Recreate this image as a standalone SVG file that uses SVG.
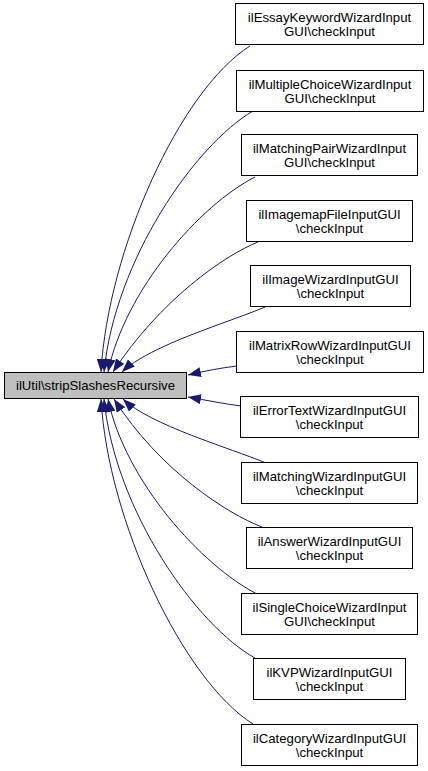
<svg xmlns="http://www.w3.org/2000/svg" width="428" height="771" viewBox="0 0 428 771">
<style>
.node rect{fill:#ffffff;stroke:#000000;stroke-width:1}
.node.cur rect{fill:#bfbfbf}
.node text{font-family:"Liberation Sans",Arial,Helvetica,sans-serif;font-size:13.2px;fill:#000000;text-anchor:middle}
.edge{fill:none;stroke:#191970;stroke-width:1;marker-end:url(#ah)}
</style>
<defs>
<marker id="ah" markerUnits="userSpaceOnUse" markerWidth="13" markerHeight="10" refX="13" refY="5" orient="auto" viewBox="0 0 13 10">
<path d="M0,0 L13,5 L0,10 z" fill="#191970"/>
</marker>
</defs>
<rect width="428" height="771" fill="#ffffff"/>
<g id="edges">
<path class="edge" d="M250,46 C180,90 108,250 101,372"/>
<path class="edge" d="M253,111 C195,145 115,260 104,372"/>
<path class="edge" d="M255,177 C200,205 125,290 108,372"/>
<path class="edge" d="M258,242 C225,255 160,300 113,372"/>
<path class="edge" d="M265,307 C230,322 150,345 122,372"/>
<path class="edge" d="M237,366 C220,368 205,371 188,375"/>
<path class="edge" d="M241,406 C225,404 205,400 188,397"/>
<path class="edge" d="M266,463 C230,448 150,425 123,399"/>
<path class="edge" d="M262,527 C228,514 160,471 114,399"/>
<path class="edge" d="M257,594 C202,566 125,481 108,399"/>
<path class="edge" d="M255,658 C197,626 115,511 104,399"/>
<path class="edge" d="M253,724 C183,680 108,521 101,399"/>
</g>
<g id="n0" class="node cur"><rect x="4.5" y="372.5" width="182" height="26"/><text x="95.5" y="390">ilUtil\stripSlashesRecursive</text></g>
<g id="n1" class="node"><rect x="235.5" y="3.5" width="188" height="41"/><text x="329.5" y="22">ilEssayKeywordWizardInput</text><text x="329.5" y="36">GUI\checkInput</text></g>
<g id="n2" class="node"><rect x="236.5" y="70.5" width="187" height="41"/><text x="330" y="89">ilMultipleChoiceWizardInput</text><text x="330" y="103">GUI\checkInput</text></g>
<g id="n3" class="node"><rect x="241.5" y="134.5" width="176" height="41"/><text x="329.5" y="153">ilMatchingPairWizardInput</text><text x="329.5" y="167">GUI\checkInput</text></g>
<g id="n4" class="node"><rect x="246.5" y="200.5" width="166" height="41"/><text x="329.5" y="219">ilImagemapFileInputGUI</text><text x="329.5" y="233">\checkInput</text></g>
<g id="n5" class="node"><rect x="250.5" y="265.5" width="160" height="41"/><text x="330.5" y="284">ilImageWizardInputGUI</text><text x="330.5" y="298">\checkInput</text></g>
<g id="n6" class="node"><rect x="236.5" y="331.5" width="187" height="41"/><text x="330" y="350">ilMatrixRowWizardInputGUI</text><text x="330" y="364">\checkInput</text></g>
<g id="n7" class="node"><rect x="240.5" y="396.5" width="178" height="41"/><text x="329.5" y="415">ilErrorTextWizardInputGUI</text><text x="329.5" y="429">\checkInput</text></g>
<g id="n8" class="node"><rect x="241.5" y="462.5" width="176" height="41"/><text x="329.5" y="481">ilMatchingWizardInputGUI</text><text x="329.5" y="495">\checkInput</text></g>
<g id="n9" class="node"><rect x="246.5" y="527.5" width="166" height="41"/><text x="329.5" y="546">ilAnswerWizardInputGUI</text><text x="329.5" y="560">\checkInput</text></g>
<g id="n10" class="node"><rect x="241.5" y="593.5" width="176" height="41"/><text x="329.5" y="612">ilSingleChoiceWizardInput</text><text x="329.5" y="626">GUI\checkInput</text></g>
<g id="n11" class="node"><rect x="253.5" y="658.5" width="152" height="41"/><text x="329.5" y="677">ilKVPWizardInputGUI</text><text x="329.5" y="691">\checkInput</text></g>
<g id="n12" class="node"><rect x="241.5" y="724.5" width="176" height="41"/><text x="329.5" y="743">ilCategoryWizardInputGUI</text><text x="329.5" y="757">\checkInput</text></g>
</svg>
